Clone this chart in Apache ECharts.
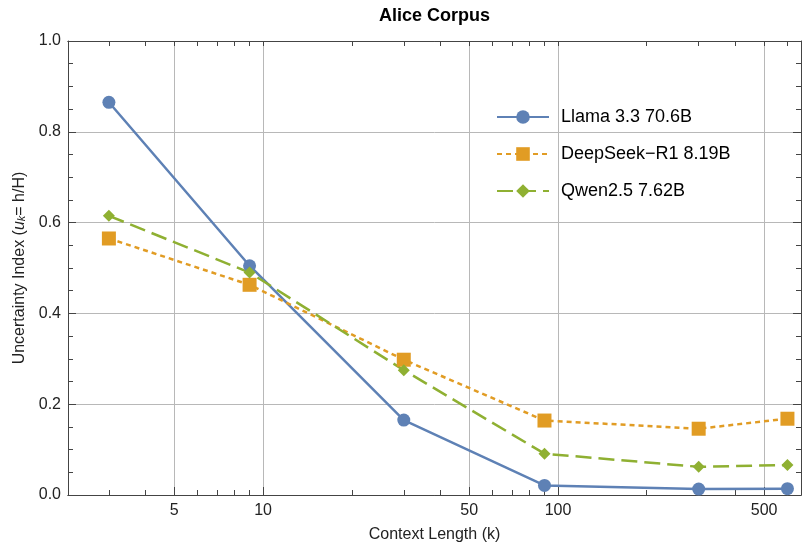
<!DOCTYPE html>
<html>
<head>
<meta charset="utf-8">
<script src="https://cdn.jsdelivr.net/npm/echarts@6/dist/echarts.min.js"></script>
<style>
  html, body { margin: 0; padding: 0; background: #fff; }
  #main { width: 802px; height: 548px; }
</style>
</head>
<body>
<div id="main"></div>
<script>
// context lengths (k)
var contextLen = [3, 9, 30, 90, 300, 600];
var llama = [0.865, 0.505, 0.165, 0.021, 0.013, 0.014];
var deepseek = [0.565, 0.463, 0.298, 0.164, 0.146, 0.168];
var qwen = [0.615, 0.490, 0.275, 0.091, 0.062, 0.066];

var majorX = [5, 10, 50, 100, 500];
var minorX = [3, 4, 6, 7, 8, 9, 20, 30, 40, 60, 70, 80, 90, 200, 300, 400, 600];

var frameColor = '#444';
var gridColor = '#b8b8b8';
var font = 'Liberation Sans, Arial, sans-serif';

function pairs(ys) {
    var out = [];
    for (var i = 0; i < ys.length; i++) {
        out.push([contextLen[i], ys[i]]);
    }
    return out;
}

function xAxisDef(pos, ticks, withLabels, withSplit) {
    return {
        type: 'log',
        logBase: 10,
        position: pos,
        min: 2.18,
        max: 667,
        axisLine: { show: true, onZero: false, lineStyle: { color: frameColor, width: 1 } },
        axisTick: {
            show: true, inside: true, customValues: ticks,
            length: withSplit ? 8 : 5,
            lineStyle: { color: frameColor }
        },
        axisLabel: {
            show: withLabels, customValues: ticks, margin: 8,
            fontSize: 16, color: '#222', fontFamily: font
        },
        splitLine: { show: withSplit, lineStyle: { color: gridColor, width: 1 } },
        minorTick: { show: false },
        minorSplitLine: { show: false }
    };
}

var myChart = echarts.init(document.getElementById('main'));

var bottomMajor = xAxisDef('bottom', majorX, true, true);
bottomMajor.name = 'Context Length (k)';
bottomMajor.nameLocation = 'middle';
bottomMajor.nameGap = 32;
bottomMajor.nameTextStyle = { fontSize: 16, color: '#222', fontFamily: font };

var topMajor = xAxisDef('top', majorX, false, false);
topMajor.name = 'Alice Corpus';
topMajor.nameLocation = 'middle';
topMajor.nameGap = 16;
topMajor.nameTextStyle = { fontSize: 18, fontWeight: 'bold', color: '#000', fontFamily: font };

function yAxisDef(pos, withLabels) {
    return {
        type: 'value',
        position: pos,
        min: 0,
        max: 1,
        interval: 0.2,
        axisLine: { show: true, lineStyle: { color: frameColor, width: 1 } },
        axisTick: { show: true, inside: true, length: 8, lineStyle: { color: frameColor } },
        minorTick: { show: true, splitNumber: 4, length: 5, lineStyle: { color: frameColor } },
        axisLabel: {
            show: withLabels, margin: 7, fontSize: 16, color: '#222', fontFamily: font,
            formatter: function (v) { return v.toFixed(1); }
        },
        splitLine: { show: withLabels, lineStyle: { color: gridColor, width: 1 } }
    };
}

var leftY = yAxisDef('left', true);
leftY.name = '{n|Uncertainty Index (}{i|u}{s|k}{n|= h/H)}';
leftY.nameLocation = 'middle';
leftY.nameGap = 40;
leftY.nameTextStyle = {
    fontFamily: font, color: '#222',
    rich: {
        n: { fontSize: 16, fontFamily: font, color: '#222' },
        i: { fontSize: 16, fontStyle: 'italic', fontFamily: font, color: '#222' },
        s: { fontSize: 11, fontStyle: 'italic', fontFamily: font, color: '#222', verticalAlign: 'bottom', padding: [6, 0, 0, 0] }
    }
};

var option = {
    animation: false,
    backgroundColor: '#fff',
    grid: { left: 68, right: 1, top: 41, bottom: 53, containLabel: false },
    legend: {
        orient: 'vertical',
        left: 496,
        top: 108,
        itemWidth: 52,
        itemHeight: 17,
        itemGap: 19,
        padding: 0,
        textStyle: { fontSize: 18, color: '#000', fontFamily: font, padding: [0, 0, 0, 7] },
        data: ['Llama 3.3 70.6B', 'DeepSeek\u2212R1 8.19B', 'Qwen2.5 7.62B']
    },
    xAxis: [
        bottomMajor,
        xAxisDef('bottom', minorX, false, false),
        topMajor,
        xAxisDef('top', minorX, false, false)
    ],
    yAxis: [leftY, yAxisDef('right', false)],
    series: [
        {
            name: 'Llama 3.3 70.6B',
            type: 'line',
            data: pairs(llama),
            symbol: 'circle',
            symbolSize: 13,
            itemStyle: { color: '#5E81B5' },
            lineStyle: { color: '#5E81B5', width: 2.5 }
        },
        {
            name: 'DeepSeek\u2212R1 8.19B',
            type: 'line',
            data: pairs(deepseek),
            symbol: 'rect',
            symbolSize: 14,
            itemStyle: { color: '#E19C24' },
            lineStyle: { color: '#E19C24', width: 2.5, type: [5, 4] }
        },
        {
            name: 'Qwen2.5 7.62B',
            type: 'line',
            data: pairs(qwen),
            symbol: 'diamond',
            symbolSize: 12,
            itemStyle: { color: '#8FB032' },
            lineStyle: { color: '#8FB032', width: 2.5, type: [16, 7] }
        }
    ]
};
myChart.setOption(option);
</script>
</body>
</html>
